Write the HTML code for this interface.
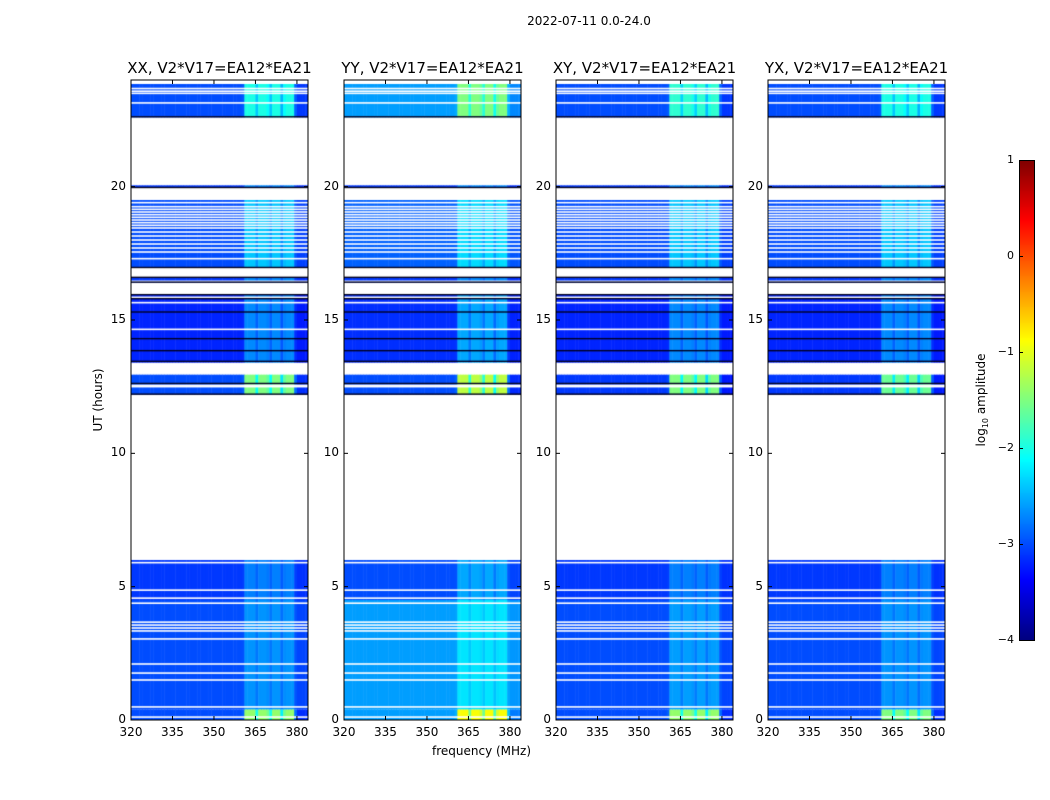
<!DOCTYPE html>
<html><head><meta charset="utf-8">
<style>
body{margin:0;background:#fff;width:1050px;height:800px;position:relative;overflow:hidden;font-family:"DejaVu Sans","Liberation Sans",sans-serif;color:#000}
.abs{position:absolute}
.title{font-size:15px;white-space:nowrap;transform:translateX(-50%)}
.tl{font-size:12px;white-space:nowrap}
</style></head><body>
<div class="abs" style="left:589px;top:14px;font-size:12px;transform:translateX(-50%)">2022-07-11 0.0-24.0</div>
<div class="abs tl" style="left:432px;top:744px">frequency (MHz)</div>
<div class="abs tl" style="left:98px;top:400px;transform:translate(-50%,-50%) rotate(-90deg)">UT (hours)</div>
<div id="panels"></div>
<canvas id="cbar" class="abs" style="left:1019px;top:160px" width="15" height="480"></canvas>
<div class="abs" style="left:1019px;top:160px;width:14px;height:479px;border:1px solid #000"></div>
<div class="abs tl" style="left:982px;top:400px;transform:translate(-50%,-50%) rotate(-90deg)">log<sub style="font-size:8px">10</sub> amplitude</div>
<div id="cbticks"></div>
<script>
const polNames=["XX","YY","XY","YX"];
const panelLeft=[131,344,556,768];
const xTicks=[320,335,350,365,380];
const yTicks=[0,5,10,15,20];
const cbTicks=[1,0,-1,-2,-3,-4];
// time blocks [start,end] in hours
const blockStart=[0,0.4,4.5,12.2,13.4,16.4,16.95,19.95,22.6];
const blockEnd=[0.4,4.5,6.0,12.95,15.95,16.6,19.5,20.05,23.85];
// base log10 amplitude per panel per block
const baseXX=[-3.0,-3.0,-3.1,-3.0,-3.2,-3.1,-3.0,-3.1,-3.0];
const baseYY=[-2.6,-2.6,-3.0,-3.0,-3.15,-3.1,-2.9,-3.1,-2.6];
const baseXY=[-3.0,-3.0,-3.1,-3.1,-3.2,-3.1,-3.0,-3.1,-3.0];
const baseYX=[-3.0,-3.0,-3.1,-3.1,-3.2,-3.1,-3.0,-3.1,-3.0];
// band (RFI/line) amplitude per panel per block
const bandXX=[1.6,0.35,0.35,1.5,0.5,0.4,0.6,0.4,1.0];
const bandYY=[1.7,0.35,0.45,1.8,0.6,0.4,0.6,0.4,1.1];
const bandXY=[1.6,0.4,0.35,1.6,0.5,0.4,0.6,0.4,1.1];
const bandYX=[1.5,0.35,0.35,1.5,0.5,0.4,0.6,0.4,1.0];
// per-MHz channel profile, 320..383
const chanProfile=[0,0,0,0,0,0,0,0,0,0,0,0,0,0,0,0,0,0,0,0,0,0,0,0,0,0,0,0,0,0,0,0,0,0,0,0,0,0,0,0,0.05,1,1,1,1,0.6,1,1,1,0.9,0.6,1,1,1,0.5,0.9,1,1,1,0.1,-0.1,-0.1,-0.1,-0.1];
// flagged (white) rows, hours
const flagRows=[0.11,0.49,1.5,1.76,2.1,3.04,3.34,3.45,3.56,3.67,4.38,4.57,4.87,5.9,12.5,12.55,14.65,15.65,15.85,16.45,17.3,17.55,17.7,17.85,18.0,18.15,18.3,18.45,18.55,18.65,18.75,18.85,18.95,19.05,19.15,19.25,19.4,23.14,23.5,23.58,23.68];
// dark rows
const darkRows=[22.62,19.97,16.97,16.42,16.6,15.95,15.8,15.3,14.3,13.85,13.45,12.62,12.22];
const bases=[baseXX,baseYY,baseXY,baseYX], bands=[bandXX,bandYY,bandXY,bandYX];

const W=177,H=640,TOP=80,F0=320,F1=384,T1=24;
const xs=f=>(f-F0)/(F1-F0)*W;
const ys=t=>H-t/T1*H;
function jet(v){
  const c=x=>Math.max(0,Math.min(1,x));
  const r=c(1.5-Math.abs(4*v-3)), g=c(1.5-Math.abs(4*v-2)), b=c(1.5-Math.abs(4*v-1));
  return `rgb(${Math.round(r*255)},${Math.round(g*255)},${Math.round(b*255)})`;
}
const cval=l=>(l+4)/5;
const root=document.getElementById('panels');
for(let p=0;p<4;p++){
  const L=panelLeft[p];
  const t=document.createElement('div');t.className='abs title';
  t.style.left=(L+W/2)+'px';t.style.top='59px';
  t.textContent=polNames[p]+', V2*V17=EA12*EA21';
  
  
  root.appendChild(t);
  const cv=document.createElement('canvas');cv.width=W;cv.height=H;cv.className='abs';
  cv.style.left=L+'px';cv.style.top=TOP+'px';
  
  
  root.appendChild(cv);
  const ctx=cv.getContext('2d');
  for(let b=0;b<blockStart.length;b++){
    const y0=ys(blockEnd[b]), y1=ys(blockStart[b]);
    for(let c=0;c<chanProfile.length;c++){
      const lv=bases[p][b]+chanProfile[c]*bands[p][b];
      ctx.fillStyle=jet(cval(lv));
      ctx.fillRect(xs(F0+c),y0,xs(F0+c+1)-xs(F0+c)+0.5,y1-y0);
    }
  }
  ctx.fillStyle='#fff';
  flagRows.forEach(r=>ctx.fillRect(0,ys(r)-0.8,W,1.6));
  ctx.fillStyle='#000020';
  darkRows.forEach(r=>ctx.fillRect(0,ys(r)-0.7,W,1.4));
  const svgNS='http://www.w3.org/2000/svg';
  const svg=document.createElementNS(svgNS,'svg');
  svg.setAttribute('width',W+2);svg.setAttribute('height',H+2);
  svg.setAttribute('class','abs');svg.style.left=(L-1)+'px';svg.style.top=(TOP-1)+'px';
  
  
  let s=`<rect x="1" y="1" width="${W}" height="${H}" fill="none" stroke="#000" stroke-width="1"/>`;
  xTicks.forEach(f=>{const x=xs(f)+1;s+=`<line x1="${x}" x2="${x}" y1="1" y2="5" stroke="#000"/><line x1="${x}" x2="${x}" y1="${H+1}" y2="${H-3}" stroke="#000"/>`;});
  yTicks.forEach(v=>{const y=ys(v)+1;s+=`<line x1="1" x2="5" y1="${y}" y2="${y}" stroke="#000"/><line x1="${W+1}" x2="${W-3}" y1="${y}" y2="${y}" stroke="#000"/>`;});
  svg.innerHTML=s;root.appendChild(svg);
  xTicks.forEach(f=>{const d=document.createElement('div');d.className='abs tl';
    d.style.left=(L+xs(f))+'px';d.style.top='725px';d.style.transform='translateX(-50%)';d.textContent=f;
    
    
    root.appendChild(d);});
  yTicks.forEach(v=>{const d=document.createElement('div');d.className='abs tl';
    d.style.right=(1050-L+5)+'px';d.style.top=(TOP+ys(v)-8)+'px';d.textContent=v;
    
    
    root.appendChild(d);});
}
const cb=document.getElementById('cbar').getContext('2d');
for(let i=0;i<480;i++){cb.fillStyle=jet(1-i/479);cb.fillRect(0,i,15,1);}
const ct=document.getElementById('cbticks');
cbTicks.forEach(v=>{const y=160+(1-v)/5*480;
  const d=document.createElement('div');d.className='abs';d.style.fontSize='11px';
  d.style.right=(1050-1014)+'px';d.style.top=(y-7)+'px';d.textContent=v<0?'\u2212'+(-v):v;
  
  
  ct.appendChild(d);
  const l=document.createElement('div');l.className='abs';l.style.left='1019px';l.style.top=y+'px';l.style.width='4px';l.style.height='1px';l.style.background='#000';
  
  
  ct.appendChild(l);});
</script>
</body></html>
